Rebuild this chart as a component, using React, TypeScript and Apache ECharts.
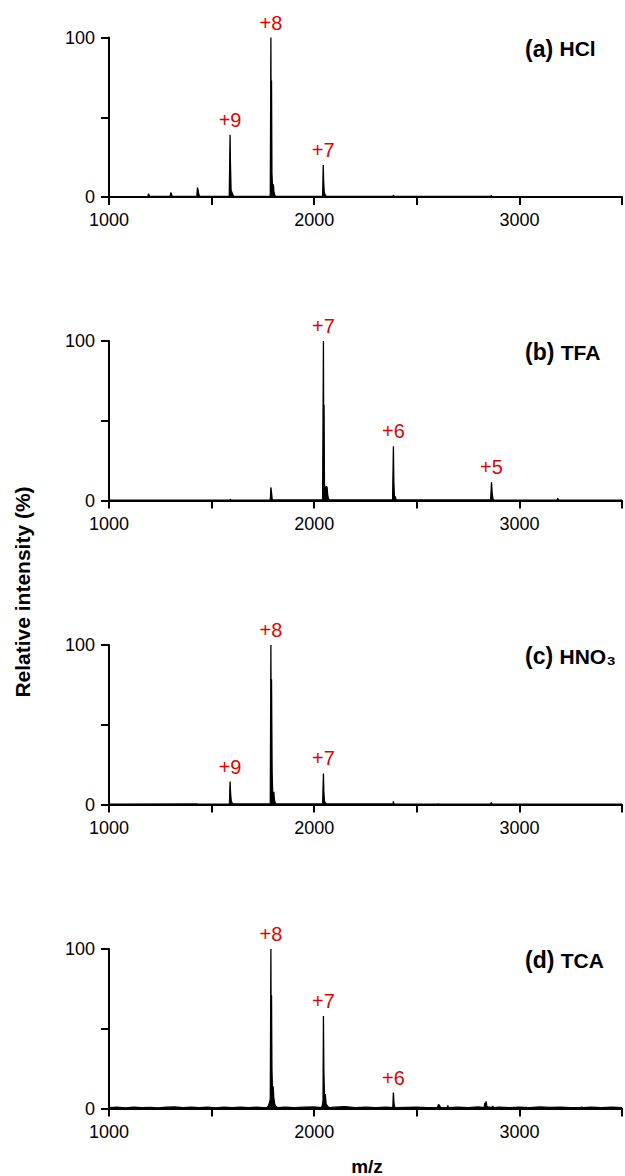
import React, { useEffect, useRef } from "react";
import * as echarts from "echarts";

// m/z vs relative intensity (%) for each acid
const hclSpectrum: [number, number][] = [
  [1000, 0.2], [1190, 0.3], [1192, 2.0], [1195, 1.5], [1198, 0.3],
  [1298, 0.3], [1301, 2.8], [1304, 2.0], [1308, 0.3],
  [1428, 0.3], [1431, 6], [1434, 4.5], [1437, 2], [1441, 0.5],
  [1586, 0.3], [1590, 39], [1592, 20], [1595, 4], [1599, 3], [1603, 1.5], [1607, 0.3],
  [1786, 0.3], [1789, 100], [1790.5, 20], [1792, 73], [1794, 15], [1797, 6], [1801, 8], [1804, 3], [1808, 1], [1814, 0.3],
  [2041, 0.3], [2044, 20], [2046, 10], [2049, 3], [2053, 1.5], [2058, 0.3],
  [2384, 0.3], [2386, 1.2], [2389, 0.3],
  [2860, 0.3], [2863, 1], [2866, 0.3],
  [3500, 0.2],
];

const tfaSpectrum: [number, number][] = [
  [1000, 0.2], [1589, 0.2], [1591, 0.8], [1594, 0.2],
  [1786, 0.2], [1789, 8.2], [1792, 5], [1795, 1], [1799, 0.3],
  [2041, 0.3], [2045, 100], [2046.5, 30], [2048, 60], [2050, 10], [2056, 6], [2060, 9], [2063, 8], [2066, 3], [2070, 1], [2075, 0.3],
  [2382, 0.3], [2386, 34], [2388, 12], [2391, 2], [2395, 2.5], [2399, 0.5], [2403, 0.3],
  [2860, 0.3], [2864, 11.5], [2867, 5], [2871, 1], [2876, 0.3],
  [3184, 0.2], [3187, 1.5], [3190, 0.2],
  [3500, 0.2],
];

const hno3Spectrum: [number, number][] = [
  [1000, 0.2], [1430, 0.3], [1432, 0.6], [1435, 0.2],
  [1587, 0.3], [1590, 14.4], [1593, 6], [1596, 2], [1600, 1], [1605, 0.3],
  [1786, 0.3], [1789, 100], [1790.5, 25], [1792, 78.5], [1795, 20], [1798, 6], [1803, 8], [1806, 3], [1810, 1], [1816, 0.3],
  [2041, 0.3], [2045, 19.5], [2047, 8], [2050, 2], [2055, 1], [2060, 0.3],
  [2384, 0.3], [2386, 2], [2389, 0.3],
  [2600, 0.2], [2604, 0.5], [2608, 0.2],
  [2860, 0.3], [2863, 1.3], [2866, 0.3],
  [3500, 0.2],
];

const tcaSpectrum: [number, number][] = [
  [1000, 0.5], [1040, 0.8], [1080, 0.4], [1120, 0.9], [1160, 0.5], [1200, 0.7], [1240, 0.4],
  [1280, 0.8], [1320, 1.0], [1360, 0.5], [1400, 0.9], [1440, 0.6], [1480, 0.8], [1520, 0.4],
  [1560, 0.9], [1600, 0.6], [1640, 0.8], [1680, 0.5], [1720, 0.9], [1750, 0.6],
  [1770, 0.5], [1778, 2], [1783, 4], [1786, 6], [1789, 100], [1790.5, 30], [1792, 71], [1794, 25], [1797, 10], [1800, 14], [1803, 7], [1807, 3], [1812, 1.5], [1820, 0.6],
  [1860, 0.9], [1900, 0.6], [1950, 0.8], [2000, 1.0],
  [2035, 0.6], [2040, 2], [2043, 5], [2045, 58], [2047, 25], [2050, 8], [2054, 9], [2058, 3], [2062, 2], [2068, 1], [2075, 0.6],
  [2100, 0.8], [2150, 1.2], [2200, 0.6], [2250, 0.9], [2300, 0.5], [2350, 0.8],
  [2383, 0.5], [2386, 10], [2389, 3], [2393, 0.5],
  [2450, 0.7], [2500, 0.9], [2550, 0.6],
  [2600, 0.5], [2606, 2.5], [2610, 2], [2616, 0.6],
  [2648, 0.5], [2651, 2], [2654, 0.5],
  [2700, 0.9], [2750, 0.6], [2800, 1.0],
  [2828, 0.5], [2832, 3.5], [2835, 1.5], [2838, 4.5], [2841, 1.5], [2846, 1], [2865, 0.6], [2870, 1.5], [2874, 0.6],
  [2900, 0.8], [2950, 0.6], [3000, 0.9], [3050, 0.6], [3100, 1.0], [3150, 0.7], [3200, 0.9], [3250, 0.6],
  [3300, 0.5], [3305, 1], [3310, 0.5],
  [3350, 0.8], [3400, 0.6], [3450, 0.9], [3500, 0.6],
];

// charge-state labels: [m/z, intensity, label]
const hclCharges: [number, number, string][] = [[1590, 39, "+9"], [1789, 100, "+8"], [2044, 20, "+7"]];
const tfaCharges: [number, number, string][] = [[2045, 100, "+7"], [2386, 34, "+6"], [2864, 11.5, "+5"]];
const hno3Charges: [number, number, string][] = [[1590, 14.4, "+9"], [1789, 100, "+8"], [2045, 19.5, "+7"]];
const tcaCharges: [number, number, string][] = [[1789, 100, "+8"], [2045, 58, "+7"], [2386, 10, "+6"]];

const panelTags = ["(a)", "(b)", "(c)", "(d)"];
const panelNames = ["HCl", "TFA", "HNO₃", "TCA"];
const spectra = [hclSpectrum, tfaSpectrum, hno3Spectrum, tcaSpectrum];
const charges = [hclCharges, tfaCharges, hno3Charges, tcaCharges];

const xTickLabels = [1000, 2000, 3000];
const yTickLabels = [0, 100];

const FONT = "'Liberation Sans', Arial, 'DejaVu Sans', sans-serif";
const gridTops = [37.5, 341, 645, 949];
const gridHeight = 159.5;

export default function App() {
  const ref = useRef<HTMLDivElement>(null);
  useEffect(() => {
    document.body.style.margin = "0";
    if (!ref.current) return;
    const chart = echarts.init(ref.current, undefined, { renderer: "svg" });
    const grid = gridTops.map((t) => ({ left: 109, right: 0, top: t, height: gridHeight }));
    const xAxis = gridTops.map((_, i) => ({
      type: "value",
      gridIndex: i,
      min: 1000,
      max: 3500,
      interval: 500,
      axisLine: { show: true, lineStyle: { color: "#000", width: 2 } },
      axisTick: { show: true, length: 8, lineStyle: { color: "#000", width: 2 } },
      axisLabel: {
        formatter: (v: number) => (xTickLabels.includes(v) ? String(v) : ""),
        fontSize: 18,
        color: "#000",
        margin: 14,
        fontFamily: FONT,
      },
      splitLine: { show: false },
    }));
    const yAxis = gridTops.map((_, i) => ({
      type: "value",
      gridIndex: i,
      min: 0,
      max: 100,
      interval: 50,
      axisLine: { show: true, onZero: false, lineStyle: { color: "#000", width: 2 } },
      axisTick: { show: true, length: 8, lineStyle: { color: "#000", width: 2 } },
      axisLabel: {
        formatter: (v: number) => (yTickLabels.includes(v) ? String(v) : ""),
        fontSize: 18,
        color: "#000",
        margin: 14,
        fontFamily: FONT,
      },
      splitLine: { show: false },
    }));
    const series: any[] = [];
    spectra.forEach((s, i) => {
      series.push({
        type: "line",
        xAxisIndex: i,
        yAxisIndex: i,
        data: s,
        showSymbol: false,
        symbol: "none",
        lineStyle: { color: "#000", width: 1.3 },
        areaStyle: { color: "#000", opacity: 1 },
        z: 2,
      });
      series.push({
        type: "scatter",
        xAxisIndex: i,
        yAxisIndex: i,
        symbol: "circle",
        symbolSize: 2,
        itemStyle: { color: "rgba(0,0,0,0)" },
        data: charges[i].map((c) => ({
          value: [c[0], c[1]],
          name: c[2],
        })),
        label: {
          show: true,
          position: "top",
          distance: 4,
          formatter: (p: any) => p.name,
          color: "#e60000",
          opacity: 1,
          fontSize: 20,
          fontFamily: FONT,
        },
        z: 3,
      });
    });
    const graphic: any[] = gridTops.map((t, i) => ({
      type: "text",
      x: 525,
      y: t + 11,
      style: {
        text: `{t|${panelTags[i]} }{n|${panelNames[i]}}`,
        align: "left",
        verticalAlign: "middle",
        rich: {
          t: { fontSize: 23, fontWeight: "bold", fontFamily: FONT, fill: "#000" },
          n: { fontSize: 21, fontWeight: "bold", fontFamily: FONT, fill: "#000" },
        },
      },
    }));
    graphic.push({
      type: "text",
      x: 22,
      y: 592,
      rotation: Math.PI / 2,
      style: {
        text: "Relative intensity (%)",
        fontSize: 21,
        fontWeight: "bold",
        fontFamily: FONT,
        fill: "#000",
        align: "center",
        verticalAlign: "middle",
      },
    });
    graphic.push({
      type: "text",
      x: 367,
      y: 1166,
      style: {
        text: "m/z",
        fontSize: 19,
        fontWeight: "bold",
        fontFamily: FONT,
        fill: "#000",
        align: "center",
        verticalAlign: "middle",
      },
    });
    chart.setOption({
      animation: false,
      backgroundColor: "#fff",
      grid,
      xAxis,
      yAxis,
      series,
      graphic,
    });
    return () => chart.dispose();
  }, []);
  return <div ref={ref} style={{ width: 625, height: 1176 }} />;
}
